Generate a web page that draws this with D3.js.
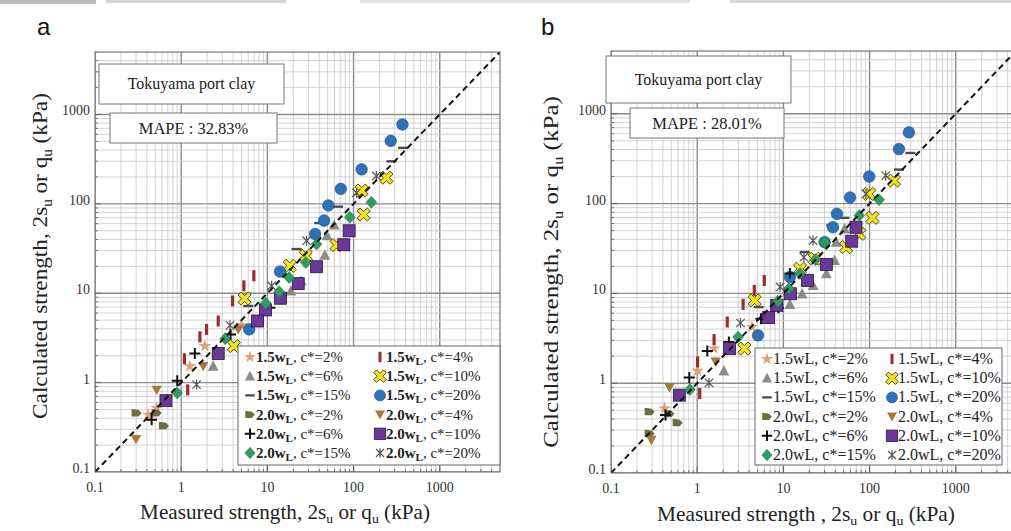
<!DOCTYPE html>
<html>
<head>
<meta charset="utf-8">
<script src="https://cdn.jsdelivr.net/npm/d3@7"></script>
<style>
body { margin: 0; background: #fff; }
text { font-family: "Liberation Serif", "Times New Roman", serif; }
</style>
</head>
<body>
<script>
var width = 1011, height = 531;

// series: liquid limit multiple and cement content
var wlLevels = ["1.5", "1.5", "1.5", "1.5", "1.5", "1.5", "2.0", "2.0", "2.0", "2.0", "2.0", "2.0"];
var cLevels = ["2%", "4%", "6%", "10%", "15%", "20%", "2%", "4%", "6%", "10%", "15%", "20%"];
var markerTypes = ["star", "bar", "triUp", "yellowX", "dash", "circle", "triRight", "triDown", "plus", "square", "diamond", "asterisk"];
var markerColors = ["#dfa07a", "#9b2d2b", "#8b8b83", "#f4e31b", "#4a4a4a", "#2e71b6", "#6c6c3c", "#a8773b", "#111111", "#6a3997", "#2f9d62", "#555555"];

var axisTicks = [0.1, 1, 10, 100, 1000];

// panel a : [measured, calculated] (kPa)
var a15c2  = [[5.0, 4.37], [1.88, 2.56], [1.26, 1.53], [0.52, 0.52], [0.415, 0.437]];
var a15c4  = [[6.97, 15.7], [5.34, 12.1], [3.95, 8.2], [2.69, 4.89], [1.97, 3.94], [1.65, 3.26], [1.09, 1.85], [1.19, 0.83]];
var a15c6  = [[59.5, 58], [49.3, 44], [46.4, 26.7], [24.7, 13.7], [18.7, 10.6], [2.35, 1.53]];
var a15c10 = [[241, 196], [124, 141], [131, 76], [63.4, 34.6], [27.9, 26.3], [18.2, 20.3], [5.44, 8.71], [4.09, 2.56]];
var a15c15 = [[376, 423], [275, 299], [66, 93], [39.9, 61], [21.8, 31.2], [6.0, 7.2]];
var a15c20 = [[369, 773], [270, 506], [124, 243], [71, 147], [51, 96], [45.6, 65], [35.8, 46], [14, 17.5], [6.15, 3.94]];
var a20c2  = [[0.304, 0.457], [0.519, 0.457], [0.631, 0.329]];
var a20c4  = [[0.299, 0.233], [0.519, 0.83], [1.8, 1.53], [4.6, 3.94]];
var a20c6  = [[10.7, 6.9], [3.74, 3.46], [1.44, 2.12], [0.90, 1.05], [0.454, 0.384]];
var a20c10 = [[88.9, 50], [77, 34.9], [37.2, 19.8], [22.8, 12.8], [14.2, 8.79], [9.53, 6.5], [7.7, 4.89], [2.69, 2.12], [0.666, 0.628]];
var a20c15 = [[161, 104], [90.5, 70.8], [37.2, 35.5], [27.9, 22.1], [17.9, 15], [13.7, 10.4], [9.6, 7.72], [3.24, 3.1], [0.90, 0.766]];
var a20c20 = [[184, 205], [108, 133], [28.5, 38.7], [11.2, 12.1], [3.68, 4.37], [1.51, 0.95]];

// panel b
var b15c2  = [[4.32, 4.22], [1.57, 2.43], [1.01, 1.37], [0.418, 0.523]];
var b15c4  = [[6.0, 13.9], [4.6, 10.8], [3.41, 7.55], [2.23, 4.8], [1.57, 3.06], [1.01, 1.73], [1.07, 0.768]];
var b15c6  = [[51.2, 52.3], [41, 37.2], [39.3, 23.3], [31.5, 16.6], [22.1, 12.3], [16.5, 9.9], [11.9, 7.55], [2.04, 1.37]];
var b15c10 = [[192, 180], [99, 128], [108, 69.3], [76, 46], [53.4, 32.7], [23.1, 24.3], [15.6, 18.8], [4.64, 8.36], [3.53, 2.43]];
var b15c15 = [[298, 366], [219, 239], [51.2, 69.3], [35.9, 57], [17.7, 28.8], [5.16, 7.04]];
var b15c20 = [[286, 620], [219, 405], [99, 200], [59.4, 117], [41.8, 76.8], [37.6, 54.5], [30.1, 37.2], [11.9, 15.2], [5.07, 3.41]];
var b20c2  = [[0.281, 0.48], [0.477, 0.457], [0.594, 0.362], [0.281, 0.276]];
var b20c4  = [[0.294, 0.233], [0.477, 0.896], [1.64, 1.73]];
var b20c6  = [[11.9, 16.6], [8.76, 6.93], [5.49, 5.23], [2.33, 2.88], [1.31, 2.29], [0.81, 1.16], [0.429, 0.441]];
var b20c10 = [[69.6, 54.5], [62.1, 38.1], [31.5, 21], [19, 13.9], [12.1, 9.9], [8.38, 7.36], [6.73, 5.37], [2.38, 2.43], [0.621, 0.736]];
var b20c15 = [[129, 110], [76, 73.6], [30.1, 37.2], [23.5, 23.7], [15.6, 16.6], [11.6, 11.3], [8.6, 8.2], [2.98, 3.27], [0.824, 0.851]];
var b20c20 = [[154, 205], [90.7, 128], [22.1, 38.8], [17.3, 25.3], [9.16, 11.8], [3.18, 4.68], [1.37, 1.01]];

var svg = d3.select("body").append("svg")
    .attr("width", width)
    .attr("height", height);

// scan residue along the top edge of the page
svg.append("rect").attr("x", 0).attr("y", 0).attr("width", 96).attr("height", 4).attr("fill", "#bdbdbd");
svg.append("rect").attr("x", 106).attr("y", 0).attr("width", 180).attr("height", 3).attr("fill", "#d6d6d6");
svg.append("rect").attr("x", 360).attr("y", 0).attr("width", 330).attr("height", 3).attr("fill", "#e4e4e4");
svg.append("rect").attr("x", 730).attr("y", 0).attr("width", 281).attr("height", 3).attr("fill", "#d9d9d9");

// cross polygon turned 45 degrees for the yellow X
function xShape(a, L) {
    var pts = [[-a,-L],[a,-L],[a,-a],[L,-a],[L,a],[a,a],[a,L],[-a,L],[-a,a],[-L,a],[-L,-a],[-a,-a]];
    var c = Math.SQRT1_2;
    return "M" + pts.map(function(p) { return [(p[0] - p[1]) * c, (p[0] + p[1]) * c].join(","); }).join("L") + "Z";
}

function drawMarker(g, type, color, k) {
    k = k || 1;
    if (type == "circle") {
        g.append("circle").attr("r", 5.8 * k).attr("fill", color).attr("stroke", "#1f4f84").attr("stroke-width", 0.6);
    } else if (type == "square") {
        g.append("rect").attr("x", -6 * k).attr("y", -6 * k).attr("width", 12 * k).attr("height", 12 * k)
            .attr("fill", color).attr("stroke", "#2b1640").attr("stroke-width", 0.8);
    } else if (type == "diamond") {
        g.append("path").attr("d", "M0," + (-6 * k) + "L" + (5.4 * k) + ",0L0," + (6 * k) + "L" + (-5.4 * k) + ",0Z")
            .attr("fill", color).attr("stroke", "#1d6a40").attr("stroke-width", 0.5);
    } else if (type == "triUp") {
        g.append("path").attr("d", "M0," + (-5.8 * k) + "L" + (5.4 * k) + "," + (4.6 * k) + "L" + (-5.4 * k) + "," + (4.6 * k) + "Z")
            .attr("fill", color);
    } else if (type == "triDown") {
        g.append("path").attr("d", "M" + (-5.2 * k) + "," + (-4.2 * k) + "L" + (5.2 * k) + "," + (-4.2 * k) + "L0," + (5.2 * k) + "Z")
            .attr("fill", color);
    } else if (type == "triRight") {
        g.append("path").attr("d", "M" + (-5 * k) + "," + (-4 * k) + "L" + (2 * k) + "," + (-3 * k) + "L" + (5 * k) + ",0L" + (2 * k) + "," + (3.5 * k) + "L" + (-5 * k) + "," + (3.5 * k) + "Z")
            .attr("fill", color);
    } else if (type == "bar") {
        g.append("rect").attr("x", -1.6 * k).attr("y", -5.5 * k).attr("width", 3.2 * k).attr("height", 11 * k).attr("fill", color);
    } else if (type == "dash") {
        g.append("rect").attr("x", -5 * k).attr("y", -1.2 * k).attr("width", 10 * k).attr("height", 2.4 * k).attr("fill", color);
    } else if (type == "plus") {
        g.append("path").attr("d", "M" + (-5.5 * k) + ",0H" + (5.5 * k) + "M0," + (-5.5 * k) + "V" + (5.5 * k))
            .attr("stroke", color).attr("stroke-width", 2);
    } else if (type == "yellowX") {
        g.append("path").attr("d", xShape(2.1 * k, 7.2 * k)).attr("fill", color).attr("stroke", "#3a3a20").attr("stroke-width", 0.9);
    } else if (type == "asterisk") {
        g.append("path").attr("d", "M" + (-4.2 * k) + "," + (-4.2 * k) + "L" + (4.2 * k) + "," + (4.2 * k) + "M" + (-4.2 * k) + "," + (4.2 * k) + "L" + (4.2 * k) + "," + (-4.2 * k) + "M0," + (-5 * k) + "V" + (5 * k))
            .attr("stroke", color).attr("stroke-width", 1.2);
    } else if (type == "star") {
        g.append("path").attr("d", d3.symbol(d3.symbolStar, 50 * k * k)()).attr("fill", color);
    }
}

function isMajor(v) {
    var l = Math.log10(v);
    return Math.abs(l - Math.round(l)) < 1e-6;
}

function addSubLabel(t, parts, size) {
    parts.forEach(function(p) {
        var s = t.append("tspan").text(p[0]);
        if (p[1]) s.attr("font-size", size * 0.65).attr("dy", size * 0.22);
        else if (p[2]) s.attr("dy", -size * 0.22);
    });
}

// stretch a label along its baseline so that it spans `len` pixels
function fitLabel(t, cx, cy, len, rot) {
    var w = t.node().getComputedTextLength();
    t.attr("transform", "translate(" + cx + "," + cy + ")" + (rot ? "rotate(-90)" : "") + "scale(" + (len / w) + ",1)");
}

function drawPanel(cfg) {
    var x = d3.scaleLog().domain([0.1, 5000]).range([cfg.left, cfg.right]);
    var y = d3.scaleLog().domain([0.1, 5000]).range([cfg.bottom, cfg.top]);

    svg.append("clipPath").attr("id", "clip" + cfg.id)
        .append("rect")
        .attr("x", cfg.left).attr("y", cfg.top)
        .attr("width", cfg.right - cfg.left).attr("height", cfg.bottom - cfg.top);

    var g = svg.append("g");
    var plot = g.append("g").attr("clip-path", "url(#clip" + cfg.id + ")");

    var ticks = x.ticks();

    plot.selectAll(".vg").data(ticks).enter().append("line")
        .attr("x1", function(d) { return x(d); }).attr("x2", function(d) { return x(d); })
        .attr("y1", cfg.top).attr("y2", cfg.bottom)
        .attr("stroke", function(d) { return isMajor(d) ? "#8c8c8c" : "#c8c8c8"; })
        .attr("stroke-width", function(d) { return isMajor(d) ? 1.4 : 0.8; });

    plot.selectAll(".hg").data(ticks).enter().append("line")
        .attr("y1", function(d) { return y(d); }).attr("y2", function(d) { return y(d); })
        .attr("x1", cfg.left).attr("x2", cfg.right)
        .attr("stroke", function(d) { return isMajor(d) ? "#8c8c8c" : "#c8c8c8"; })
        .attr("stroke-width", function(d) { return isMajor(d) ? 1.4 : 0.8; });

    // small inside ticks
    plot.selectAll(".bt").data(ticks).enter().append("line")
        .attr("x1", function(d) { return x(d); }).attr("x2", function(d) { return x(d); })
        .attr("y1", cfg.bottom).attr("y2", function(d) { return cfg.bottom - (isMajor(d) ? 6 : 3); })
        .attr("stroke", "#555").attr("stroke-width", 0.8);
    plot.selectAll(".lt").data(ticks).enter().append("line")
        .attr("y1", function(d) { return y(d); }).attr("y2", function(d) { return y(d); })
        .attr("x1", cfg.left).attr("x2", function(d) { return cfg.left + (isMajor(d) ? 6 : 3); })
        .attr("stroke", "#555").attr("stroke-width", 0.8);

    // points
    cfg.series.forEach(function(pts, i) {
        plot.append("g").selectAll("g").data(pts).enter().append("g")
            .attr("transform", function(d) { return "translate(" + x(d[0]) + "," + y(d[1]) + ")"; })
            .each(function() { drawMarker(d3.select(this), markerTypes[i], markerColors[i], 1); });
    });

    // 1:1 line
    plot.append("line")
        .attr("x1", x(0.1)).attr("y1", y(0.1))
        .attr("x2", x(5000)).attr("y2", y(5000))
        .attr("stroke", "#111").attr("stroke-width", 2)
        .attr("stroke-dasharray", "6,4");

    g.append("rect")
        .attr("x", cfg.left).attr("y", cfg.top)
        .attr("width", cfg.right - cfg.left).attr("height", cfg.bottom - cfg.top)
        .attr("fill", "none").attr("stroke", "#666").attr("stroke-width", 1);

    // tick labels
    g.selectAll(".xl").data(axisTicks).enter().append("text")
        .attr("x", function(d) { return x(d); }).attr("y", cfg.bottom + 20)
        .attr("text-anchor", "middle").attr("font-size", 14).attr("fill", "#333")
        .text(function(d) { return d; });
    g.selectAll(".yl").data(axisTicks).enter().append("text")
        .attr("x", cfg.left - 5).attr("y", function(d) { return y(d) + 1; })
        .attr("text-anchor", "end").attr("font-size", 14).attr("fill", "#333")
        .text(function(d) { return d; });

    // axis titles
    var xt = g.append("text").attr("text-anchor", "middle").attr("font-size", 20).attr("fill", "#222");
    addSubLabel(xt, [[cfg.xTitleHead + ", 2s"], ["u", 1], [" or q", 0, 1], ["u", 1], [" (kPa)", 0, 1]], 20);
    fitLabel(xt, cfg.xTitle[0], cfg.xTitle[1], cfg.xTitle[2], false);

    var yt = g.append("text").attr("text-anchor", "middle").attr("font-size", 21).attr("fill", "#222");
    addSubLabel(yt, [["Calculated strength, 2s"], ["u", 1], [" or q", 0, 1], ["u", 1], [" (kPa)", 0, 1]], 21);
    fitLabel(yt, cfg.yTitle[0], cfg.yTitle[1], cfg.yTitle[2], true);

    // panel letter
    g.append("text").attr("x", cfg.letterX).attr("y", 35)
        .style("font-family", "Liberation Sans, Arial, sans-serif")
        .attr("font-size", 24).attr("fill", "#111").text(cfg.letter);

    // info boxes
    g.append("rect").attr("x", cfg.box1[0]).attr("y", cfg.box1[1]).attr("width", cfg.box1[2]).attr("height", cfg.box1[3])
        .attr("fill", "#fff").attr("stroke", "#777").attr("stroke-width", 1);
    g.append("text").attr("x", cfg.box1[0] + cfg.box1[2] / 2).attr("y", cfg.box1[1] + cfg.box1[3] / 2 + 5)
        .attr("text-anchor", "middle").attr("font-size", 16).attr("fill", "#222").text("Tokuyama port clay");
    g.append("rect").attr("x", cfg.box2[0]).attr("y", cfg.box2[1]).attr("width", cfg.box2[2]).attr("height", cfg.box2[3])
        .attr("fill", "#fff").attr("stroke", "#777").attr("stroke-width", 1);
    g.append("text").attr("x", cfg.box2[0] + cfg.box2[2] / 2).attr("y", cfg.box2[1] + cfg.box2[3] / 2 + 5.5)
        .attr("text-anchor", "middle").attr("font-size", 16.5).attr("fill", "#222").text(cfg.mape);

    // legend
    var lg = cfg.legend;
    g.append("rect").attr("x", lg[0]).attr("y", lg[1]).attr("width", lg[2]).attr("height", lg[3])
        .attr("fill", "#fff").attr("stroke", "#666").attr("stroke-width", 1);
    wlLevels.forEach(function(w, i) {
        var row = Math.floor(i / 2), col = i % 2;
        var mx = col == 0 ? cfg.legCol1 : cfg.legCol2;
        var my = lg[1] + 11 + row * 19.2;
        var m = g.append("g").attr("transform", "translate(" + mx + "," + my + ")");
        drawMarker(m, markerTypes[i], markerColors[i], 0.95);
        var t = g.append("text").attr("x", mx + 6).attr("y", my + 5)
            .attr("font-size", cfg.legFont).attr("fill", "#222");
        t.append("tspan").text(w + "w").attr("font-weight", cfg.bold ? "bold" : null);
        t.append("tspan").text("L").attr("font-size", cfg.bold ? 11 : cfg.legFont)
            .attr("font-weight", cfg.bold ? "bold" : null).attr("dy", cfg.bold ? 3 : 0);
        t.append("tspan").text(", c*=" + cLevels[i]).attr("dy", cfg.bold ? -3 : 0);
    });
}

drawPanel({
    id: "a", letter: "a", letterX: 37,
    left: 95, right: 500, top: 52, bottom: 472,
    series: [a15c2, a15c4, a15c6, a15c10, a15c15, a15c20, a20c2, a20c4, a20c6, a20c10, a20c15, a20c20],
    xTitleHead: "Measured strength", xTitle: [285, 519, 290],
    yTitle: [47, 256, 326],
    box1: [99, 64, 185, 40], box2: [110, 113, 167, 30],
    mape: "MAPE : 32.83%",
    legend: [238, 346, 262, 119], legCol1: 250, legCol2: 380, legFont: 15,
    bold: true
});

drawPanel({
    id: "b", letter: "b", letterX: 541,
    left: 611, right: 1016, top: 51, bottom: 473,
    series: [b15c2, b15c4, b15c6, b15c10, b15c15, b15c20, b20c2, b20c4, b20c6, b20c10, b20c15, b20c20],
    xTitleHead: "Measured strength ", xTitle: [806, 521, 298],
    yTitle: [558, 272, 352],
    box1: [606, 56, 185, 47], box2: [630, 108, 154, 30],
    mape: "MAPE : 28.01%",
    legend: [755, 348, 247, 117], legCol1: 767, legCol2: 892, legFont: 16,
    bold: false
});
</script>
</body>
</html>
